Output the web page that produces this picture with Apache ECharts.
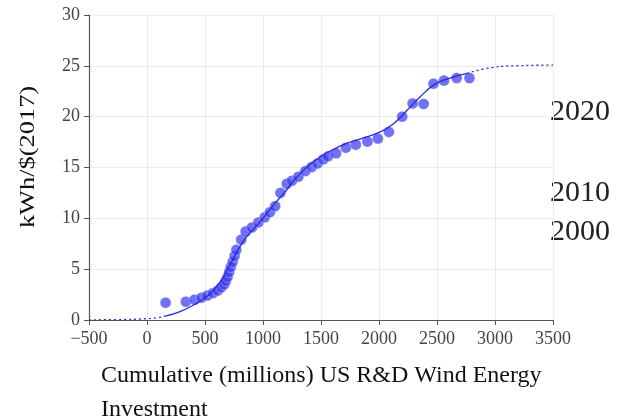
<!DOCTYPE html>
<html>
<head>
<meta charset="utf-8">
<script src="https://cdn.jsdelivr.net/npm/echarts@6/dist/echarts.min.js"></script>
<style>
  html, body { margin: 0; padding: 0; background: #fff; }
  #main { width: 624px; height: 419px; }
</style>
</head>
<body>
<div id="main"></div>
<script>
// observed points: [cumulative investment, kWh/$]
const observed = [
  [160, 1.7], [335, 1.8], [410, 2.0], [470, 2.2], [520, 2.4], [570, 2.65],
  [610, 2.9], [640, 3.2], [665, 3.5], [680, 3.85], [695, 4.25], [708, 4.7],
  [722, 5.2], [738, 5.7], [755, 6.3], [770, 6.9], [812, 7.9], [850, 8.7],
  [905, 9.1], [960, 9.6], [1015, 10.1], [1060, 10.6], [1105, 11.2], [1150, 12.5],
  [1205, 13.4], [1250, 13.7], [1305, 14.1], [1365, 14.65], [1420, 15.05], [1470, 15.4],
  [1520, 15.8], [1560, 16.1], [1630, 16.4], [1715, 16.95], [1800, 17.25], [1900, 17.55],
  [1990, 17.85], [2085, 18.5], [2200, 20.0], [2290, 21.3], [2385, 21.25], [2470, 23.25],
  [2560, 23.55], [2670, 23.8], [2780, 23.8]
];
// fitted curve
const fitBefore = [[-500, 0.02], [-250, 0.04], [0, 0.13], [100, 0.25], [165, 0.4]];
const fitSolid = [
  [165, 0.4], [285, 0.82], [400, 1.47], [515, 2.3], [600, 3.3], [660, 4.25],
  [700, 5.15], [745, 6.05], [800, 7.2], [860, 8.2], [975, 9.65], [1090, 11.3],
  [1175, 12.4], [1320, 14.4], [1490, 16.0], [1665, 17.1], [1835, 17.8], [2010, 18.5],
  [2125, 19.3], [2240, 20.6], [2355, 21.95], [2470, 23.1], [2585, 23.7], [2760, 24.25]
];
const fitAfter = [[2760, 24.25], [2930, 24.75], [3160, 25.0], [3500, 25.07]];
const yearLabels = [['2020', 112], ['2010', 193], ['2000', 232]];

const serif = '"Liberation Serif", "DejaVu Serif", serif';
const chart = echarts.init(document.getElementById('main'));

const lineStyle = { color: '#2a2ad6', width: 1.3 };

chart.setOption({
  animation: false,
  grid: { left: 89, right: 71, top: 15, bottom: 99 },
  xAxis: {
    type: 'value',
    min: -500,
    max: 3500,
    interval: 500,
    axisLine: { show: true, onZero: false, lineStyle: { color: '#555', width: 1.2 } },
    axisTick: { show: true, length: 5, lineStyle: { color: '#555' } },
    axisLabel: {
      color: '#444', fontFamily: serif, fontSize: 18, margin: 10,
      formatter: v => String(v).replace('-', '\u2212')
    },
    splitLine: { show: true, lineStyle: { color: '#ececec' } }
  },
  yAxis: {
    type: 'value',
    min: 0,
    max: 30,
    interval: 5,
    axisLine: { show: true, onZero: false, lineStyle: { color: '#555', width: 1.2 } },
    axisTick: { show: true, length: 5, lineStyle: { color: '#555' } },
    axisLabel: { color: '#444', fontFamily: serif, fontSize: 18, margin: 9 },
    splitLine: { show: true, lineStyle: { color: '#ececec' } }
  },
  graphic: [
    {
      type: 'text', x: 28, y: 157, rotation: Math.PI / 2, scaleX: 1.2,
      style: {
        text: 'kWh/$(2017)', fill: '#111', font: '22px ' + serif,
        align: 'center', verticalAlign: 'middle'
      }
    },
    {
      type: 'text', left: 101, top: 364,
      style: { text: 'Cumulative (millions) US R&D Wind Energy', fill: '#111', font: '24px ' + serif }
    },
    {
      type: 'text', left: 101, top: 398,
      style: { text: 'Investment', fill: '#111', font: '24px ' + serif }
    }
  ].concat(yearLabels.map(([t, y]) => ({
    type: 'text', left: 550, top: y - 15,
    style: { text: t, fill: '#222', font: '30px ' + serif }
  }))),
  series: [
    {
      type: 'line', data: fitBefore, smooth: true, showSymbol: false,
      lineStyle: Object.assign({ type: [2, 3] }, lineStyle), z: 3
    },
    {
      type: 'line', data: fitSolid, smooth: true, showSymbol: false,
      lineStyle: lineStyle, z: 3
    },
    {
      type: 'line', data: fitAfter, smooth: true, showSymbol: false,
      lineStyle: Object.assign({ type: [2, 3] }, lineStyle), z: 3
    },
    {
      type: 'scatter', data: observed, symbolSize: 11,
      itemStyle: { color: 'rgba(58, 58, 240, 0.9)', borderColor: 'rgba(255,255,255,0.5)', borderWidth: 0.8 },
      z: 2
    }
  ]
});
</script>
</body>
</html>
